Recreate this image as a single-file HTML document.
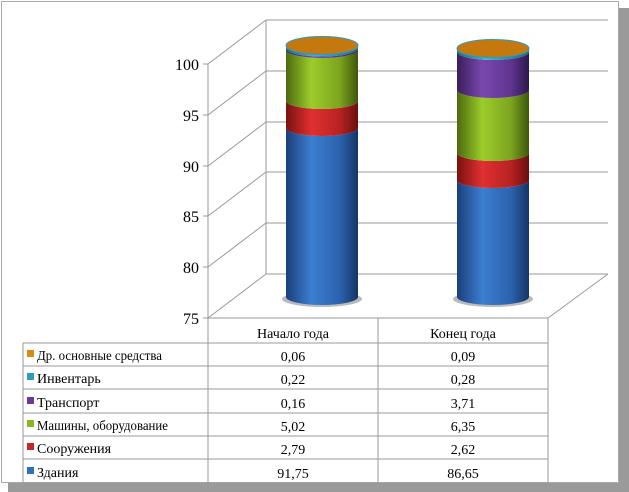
<!DOCTYPE html><html><head><meta charset="utf-8"><style>
body{margin:0;background:#fff}
svg{display:block}
text{font-family:"Liberation Serif",serif;fill:#000}
</style></head><body>
<svg width="629" height="492" viewBox="0 0 629 492" xmlns="http://www.w3.org/2000/svg">
<defs>
<linearGradient id="gb" x1="0" x2="1"><stop offset="0" stop-color="#1a3f7a"/><stop offset=".35" stop-color="#3c7ed0"/><stop offset=".75" stop-color="#2b62ad"/><stop offset="1" stop-color="#163566"/></linearGradient>
<linearGradient id="gr" x1="0" x2="1"><stop offset="0" stop-color="#7a1010"/><stop offset=".35" stop-color="#e03030"/><stop offset=".75" stop-color="#b82222"/><stop offset="1" stop-color="#6a0e0e"/></linearGradient>
<linearGradient id="gg" x1="0" x2="1"><stop offset="0" stop-color="#4c6a10"/><stop offset=".35" stop-color="#9ccc2a"/><stop offset=".75" stop-color="#7ca41e"/><stop offset="1" stop-color="#3e560c"/></linearGradient>
<linearGradient id="gp" x1="0" x2="1"><stop offset="0" stop-color="#3a1e5c"/><stop offset=".35" stop-color="#7a48ad"/><stop offset=".75" stop-color="#5e3590"/><stop offset="1" stop-color="#2e184c"/></linearGradient>
<linearGradient id="gt" x1="0" x2="1"><stop offset="0" stop-color="#1a6a7a"/><stop offset=".4" stop-color="#3ab8d0"/><stop offset="1" stop-color="#1a6a7a"/></linearGradient>
</defs>
<rect x="619" y="8" width="10" height="484" fill="#9a9a9a"/>
<rect x="8" y="483" width="621" height="9" fill="#9a9a9a"/>
<rect x="1.5" y="1.5" width="617" height="481" fill="#fff" stroke="#aaa" stroke-width="1"/>
<g stroke="#999" stroke-width="1" fill="none">
<line x1="266" y1="20" x2="266" y2="274"/>
<line x1="208" y1="64" x2="208" y2="318"/>
<line x1="266" y1="20" x2="608" y2="20"/>
<line x1="266" y1="71" x2="608" y2="71"/>
<line x1="266" y1="122" x2="608" y2="122"/>
<line x1="266" y1="172" x2="608" y2="172"/>
<line x1="266" y1="223" x2="608" y2="223"/>
<line x1="266" y1="274" x2="608" y2="274"/>
<line x1="208" y1="64" x2="266" y2="20"/>
<line x1="208" y1="115" x2="266" y2="71"/>
<line x1="208" y1="166" x2="266" y2="122"/>
<line x1="208" y1="216" x2="266" y2="172"/>
<line x1="208" y1="267" x2="266" y2="223"/>
<line x1="208" y1="318" x2="266" y2="274"/>
<line x1="208" y1="318" x2="548" y2="318"/>
<line x1="548" y1="318" x2="608" y2="274"/>
<line x1="203" y1="64" x2="208" y2="64"/><line x1="203" y1="115" x2="208" y2="115"/><line x1="203" y1="166" x2="208" y2="166"/><line x1="203" y1="216" x2="208" y2="216"/><line x1="203" y1="267" x2="208" y2="267"/><line x1="203" y1="318" x2="208" y2="318"/>
</g>
<g font-size="16" text-anchor="end">
<text x="199" y="70">100</text><text x="199" y="121">95</text><text x="199" y="172">90</text><text x="199" y="222">85</text><text x="199" y="273">80</text><text x="199" y="324">75</text>
</g>
<ellipse cx="322" cy="299" rx="40" ry="8" fill="#bbb"/>
<ellipse cx="493" cy="299" rx="40" ry="8" fill="#bbb"/>
<g>
<path d="M286,128 A36,8 0 0 0 358,128 L358,297 A36,8 0 0 1 286,297 Z" fill="url(#gb)"/>
<path d="M286,101 A36,8 0 0 0 358,101 L358,128 A36,8 0 0 1 286,128 Z" fill="url(#gr)"/>
<path d="M286,50 A36,8 0 0 0 358,50 L358,101 A36,8 0 0 1 286,101 Z" fill="url(#gg)"/>
<path d="M286,48.5 A36,8 0 0 0 358,48.5 L358,50 A36,8 0 0 1 286,50 Z" fill="url(#gp)"/>
<path d="M286,46.5 A36,8 0 0 0 358,46.5 L358,48.5 A36,8 0 0 1 286,48.5 Z" fill="url(#gt)"/>
<ellipse cx="322" cy="45.5" rx="36" ry="9" fill="#c4780e" stroke="#2a9ac0" stroke-width="1"/>
</g>
<g>
<path d="M457,180 A36,8 0 0 0 529,180 L529,297 A36,8 0 0 1 457,297 Z" fill="url(#gb)"/>
<path d="M457,153 A36,8 0 0 0 529,153 L529,180 A36,8 0 0 1 457,180 Z" fill="url(#gr)"/>
<path d="M457,90 A36,8 0 0 0 529,90 L529,153 A36,8 0 0 1 457,153 Z" fill="url(#gg)"/>
<path d="M457,52 A36,8 0 0 0 529,52 L529,90 A36,8 0 0 1 457,90 Z" fill="url(#gp)"/>
<path d="M457,49.5 A36,8 0 0 0 529,49.5 L529,52 A36,8 0 0 1 457,52 Z" fill="url(#gt)"/>
<ellipse cx="493" cy="48.5" rx="36" ry="9" fill="#c4780e" stroke="#2a9ac0" stroke-width="1"/>
</g>
<g stroke="#999" stroke-width="1" fill="none">
<line x1="208" y1="318" x2="208" y2="483"/>
<line x1="378" y1="318" x2="378" y2="483"/>
<line x1="548" y1="318" x2="548" y2="483"/>
<line x1="23" y1="343" x2="23" y2="483"/>
<line x1="23" y1="343" x2="548" y2="343"/>
<line x1="23" y1="366" x2="548" y2="366"/>
<line x1="23" y1="389" x2="548" y2="389"/>
<line x1="23" y1="413" x2="548" y2="413"/>
<line x1="23" y1="436" x2="548" y2="436"/>
<line x1="23" y1="459" x2="548" y2="459"/>
<line x1="23" y1="483" x2="548" y2="483"/>
</g>
<g font-size="14" text-anchor="middle">
<text x="293" y="338">Начало года</text><text x="463" y="338">Конец года</text>
<text x="293" y="361">0,06</text><text x="463" y="361">0,09</text>
<text x="293" y="384">0,22</text><text x="463" y="384">0,28</text>
<text x="293" y="408">0,16</text><text x="463" y="408">3,71</text>
<text x="293" y="431">5,02</text><text x="463" y="431">6,35</text>
<text x="293" y="454">2,79</text><text x="463" y="454">2,62</text>
<text x="293" y="478">91,75</text><text x="463" y="478">86,65</text>
</g>
<g>
<rect x="27" y="350" width="7" height="7" fill="#d98a10"/>
<rect x="27" y="373" width="7" height="7" fill="#2aa0b8"/>
<rect x="27" y="397" width="7" height="7" fill="#6a3a9a"/>
<rect x="27" y="420" width="7" height="7" fill="#8ab822"/>
<rect x="27" y="443" width="7" height="7" fill="#c0282a"/>
<rect x="27" y="467" width="7" height="7" fill="#2f6fc0"/>
</g>
<g font-size="14">
<text x="37" y="360" textLength="125" lengthAdjust="spacingAndGlyphs">Др. основные средства</text>
<text x="37" y="383">Инвентарь</text>
<text x="37" y="407">Транспорт</text>
<text x="37" y="430" textLength="131" lengthAdjust="spacingAndGlyphs">Машины, оборудование</text>
<text x="37" y="453">Сооружения</text>
<text x="37" y="477">Здания</text>
</g>
</svg>
</body></html>
